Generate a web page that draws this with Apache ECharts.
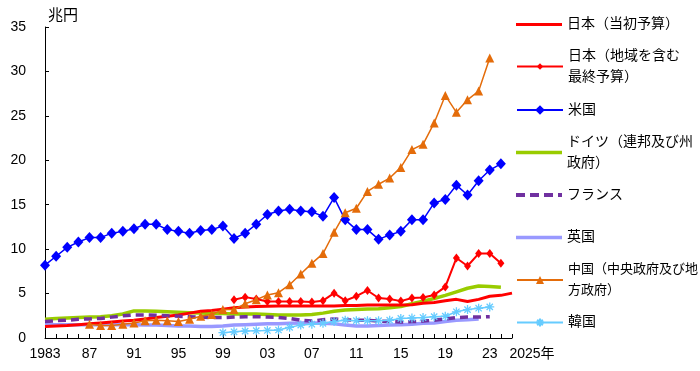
<!DOCTYPE html>
<html>
<head>
<meta charset="utf-8">
<script src="https://cdn.jsdelivr.net/npm/echarts@6/dist/echarts.min.js"></script>
<style>
html,body{margin:0;padding:0;background:#fff;}
#chart{width:700px;height:371px;}
</style>
</head>
<body>
<div id="chart"></div>
<script>
// Years 1983..2025
var years = [];
for (var y = 1983; y <= 2025; y++) years.push(String(y));

var seriesNames = [
  '日本（当初予算）',
  '日本（地域を含む最終予算）',
  '米国',
  'ドイツ（連邦及び州政府）',
  'フランス',
  '英国',
  '中国（中央政府及び地方政府）',
  '韓国'
];
var legendLabels = [
  '日本（当初予算）',
  '日本（地域を含む\n最終予算）',
  '米国',
  'ドイツ（連邦及び州\n政府）',
  'フランス',
  '英国',
  '中国（中央政府及び地\n方政府）',
  '韓国'
];

// 兆円, 1983..2025
var japanInitial = [1.3,1.35,1.4,1.5,1.6,1.7,1.8,1.9,2.0,2.15,
  2.3,2.45,2.6,2.8,3.0,3.1,3.25,3.4,3.5,3.55,
  3.58,3.6,3.6,3.6,3.6,3.6,3.6,3.65,3.65,3.7,
  3.7,3.7,3.7,3.75,3.9,4.0,4.2,4.35,4.1,4.35,
  4.7,4.8,5.05];
var japanFinal = [null,null,null,null,null,null,null,null,null,null,
  null,null,null,null,null,null,null,
  4.3,4.6,4.4,4.1,4.1,4.1,4.1,4.05,4.2,5.05,
  4.2,4.7,5.35,4.5,4.4,4.15,4.5,4.55,4.85,5.75,
  9.0,8.1,9.5,9.5,8.4,null];
var usa = [8.2,9.2,10.2,10.8,11.3,11.3,11.8,12.0,12.3,12.8,
  12.8,12.2,12.0,11.8,12.1,12.2,12.6,11.2,11.8,12.8,
  13.9,14.3,14.5,14.3,14.2,13.7,15.8,13.3,12.2,12.2,
  11.1,11.6,12.0,13.3,13.3,15.2,15.6,17.2,16.1,17.7,
  18.9,19.6,null];
var germany = [2.1,2.2,2.25,2.3,2.35,2.4,2.5,2.7,3.05,3.05,
  3.0,2.95,2.9,2.85,2.8,2.75,2.75,2.7,2.7,2.7,
  2.65,2.6,2.6,2.6,2.65,2.8,3.0,3.15,3.2,3.25,
  3.3,3.4,3.55,3.85,4.15,4.45,4.8,5.2,5.6,5.85,
  5.8,5.7,null];
var france = [1.85,1.95,2.0,2.1,2.15,2.2,2.35,2.5,2.6,2.6,
  2.55,2.5,2.45,2.4,2.35,2.3,2.3,2.35,2.4,2.4,
  2.35,2.3,2.2,2.0,1.9,2.05,2.15,2.05,2.0,2.0,
  1.9,1.85,1.8,1.85,1.9,2.0,2.15,2.3,2.35,2.35,
  2.4,null,null];
var uk = [1.5,1.5,1.5,1.5,1.5,1.5,1.5,1.5,1.5,1.45,
  1.45,1.4,1.35,1.35,1.3,1.3,1.35,1.45,1.5,1.55,
  1.6,1.6,1.65,1.7,1.7,1.65,1.6,1.45,1.35,1.35,
  1.4,1.45,1.5,1.55,1.65,1.7,1.85,2.0,2.05,2.15,
  null,null,null];
var china = [null,null,null,null,
  1.55,1.4,1.4,1.55,1.7,1.95,2.0,1.95,1.85,2.1,
  2.45,2.65,3.2,3.2,3.85,4.3,4.85,5.1,6.0,7.2,
  8.4,9.5,11.9,14.1,14.6,16.5,17.3,18.0,19.2,21.2,
  21.8,24.2,27.3,25.4,26.8,27.8,31.5,
  null,null];
var korea = [null,null,null,null,null,null,null,null,null,null,
  null,null,null,null,null,null,
  0.6,0.7,0.78,0.82,0.85,0.9,1.2,1.45,1.55,1.65,
  1.85,2.0,1.95,1.95,1.95,2.0,2.2,2.25,2.3,2.4,
  2.45,2.95,3.2,3.35,3.5,
  null,null];

var yTicks = [0,5,10,15,20,25,30,35];

var FONT = '"Liberation Sans", "Noto Sans CJK JP", sans-serif';
var asterisk = 'path://M0,-5L0,5M-5,0L5,0M-3.5,-3.5L3.5,3.5M-3.5,3.5L3.5,-3.5';
var dashIcon = 'path://M0,0h9v4h-9zM14,0h9v4h-9zM28,0h9v4h-9zM42,0h4v4h-4z';

var chart = echarts.init(document.getElementById('chart'), null, {renderer: 'canvas'});

// per-legend settings: icon override, icon height, font size
var legendTops = [14, 35, 99.5, 121, 184.5, 227, 248.5, 312];
var legendIcons = ['rect', null, null, 'rect', dashIcon, 'rect', null, null];
var legendItemH = [3, 8, 12, 3.5, 4, 3.5, 10, 10];
var legendFont = [14, 14, 14, 14, 14, 14, 13, 14];

var legends = seriesNames.map(function (n, i) {
  var twoLine = legendLabels[i].indexOf('\n') >= 0;
  var item = {name: n};
  if (legendIcons[i]) item.icon = legendIcons[i];
  return {
    data: [item],
    left: 516,
    top: legendTops[i],
    padding: 0,
    itemWidth: 46,
    itemHeight: legendItemH[i],
    selectedMode: false,
    formatter: function () { return legendLabels[i]; },
    textStyle: {
      fontSize: legendFont[i],
      lineHeight: 21,
      color: '#000',
      fontFamily: FONT,
      padding: twoLine ? [21, 0, 0, 0] : 0
    }
  };
});

var option = {
  animation: false,
  backgroundColor: '#fff',
  textStyle: {fontFamily: FONT},
  grid: {left: 45, right: 188, top: 27, bottom: 33, containLabel: false},
  legend: legends,
  xAxis: {
    type: 'category',
    data: years,
    boundaryGap: false,
    axisLine: {lineStyle: {color: '#000', width: 1}},
    axisTick: {inside: true, length: 4, interval: 0, lineStyle: {color: '#000'}},
    axisLabel: {
      fontSize: 14,
      color: '#000',
      fontFamily: FONT,
      margin: 9,
      interval: function (idx) { return idx % 4 === 0 || idx === years.length - 1; },
      formatter: function (v, idx) {
        if (idx === 0) return v;
        if (idx === years.length - 1) return '{r|' + v + '年}';
        return v.slice(2);
      },
      rich: {r: {fontSize: 14, color: '#000', fontFamily: FONT, padding: [0, 0, 0, 40]}}
    },
    splitLine: {show: false}
  },
  yAxis: {
    type: 'value',
    min: yTicks[0],
    max: yTicks[yTicks.length - 1],
    interval: 5,
    name: '兆円',
    nameLocation: 'end',
    nameGap: 4,
    nameTextStyle: {fontSize: 15, color: '#000', fontFamily: FONT, align: 'left', padding: [0, 0, 0, 3]},
    axisLine: {show: true, lineStyle: {color: '#000', width: 1}},
    axisTick: {show: true, inside: true, length: 4, lineStyle: {color: '#000'}},
    axisLabel: {fontSize: 14, color: '#000', fontFamily: FONT, margin: 19},
    splitLine: {show: false}
  },
  series: [
    {name: seriesNames[0], type: 'line', data: japanInitial, symbol: 'none',
      lineStyle: {color: '#ff0000', width: 3}, itemStyle: {color: '#ff0000'}, z: 3},
    {name: seriesNames[1], type: 'line', data: japanFinal, symbol: 'diamond', symbolSize: [7, 9],
      showAllSymbol: true,
      lineStyle: {color: '#ff0000', width: 2}, itemStyle: {color: '#ff0000'}, z: 4},
    {name: seriesNames[2], type: 'line', data: usa, symbol: 'diamond', symbolSize: [10, 11],
      showAllSymbol: true,
      lineStyle: {color: '#0000ff', width: 1.5}, itemStyle: {color: '#0000ff'}, z: 4},
    {name: seriesNames[3], type: 'line', data: germany, symbol: 'none',
      lineStyle: {color: '#99cc00', width: 3.5}, itemStyle: {color: '#99cc00'}, z: 2},
    {name: seriesNames[4], type: 'line', data: france, symbol: 'none',
      lineStyle: {color: '#7030a0', width: 3.5, type: [8, 5]}, itemStyle: {color: '#7030a0'}, z: 3},
    {name: seriesNames[5], type: 'line', data: uk, symbol: 'none',
      lineStyle: {color: '#9999ff', width: 3.5}, itemStyle: {color: '#9999ff'}, z: 2},
    {name: seriesNames[6], type: 'line', data: china, symbol: 'triangle', symbolSize: 9,
      showAllSymbol: true,
      lineStyle: {color: '#e46c0a', width: 1.5}, itemStyle: {color: '#e46c0a'}, z: 4},
    {name: seriesNames[7], type: 'line', data: korea, symbol: asterisk, symbolSize: 9,
      showAllSymbol: true,
      lineStyle: {color: '#66ccff', width: 1.5},
      itemStyle: {color: '#66ccff', borderColor: '#66ccff', borderWidth: 1.3}, z: 4}
  ]
};
chart.setOption(option);
</script>
</body>
</html>
